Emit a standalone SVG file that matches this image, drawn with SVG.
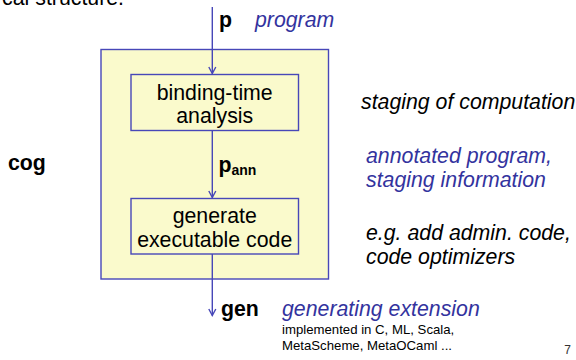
<svg xmlns="http://www.w3.org/2000/svg" width="576" height="360" viewBox="0 0 576 360">
  <style>
    text { font-family: "Liberation Sans", Arial, sans-serif; }
    .lg { font-size: 21.3px; fill: #000; }
    .b { font-weight: bold; }
    .it { font-style: italic; }
    .blue { fill: #33339E; }
    .sm { font-size: 13.2px; fill: #000; }
    .box { fill: #FAFACC; stroke: #4747B8; stroke-width: 1.4; }
    .conn { fill: none; stroke: #4747B8; stroke-width: 1.4; }
    .head { fill: none; stroke: #4747B8; stroke-width: 1.4; }
  </style>

  <!-- heading fragment at top edge -->
  <text class="lg" x="124" y="4.5" text-anchor="end">cal structure.</text>

  <!-- outer generator box -->
  <g id="cog">
    <rect class="box" x="101" y="49.5" width="227.5" height="229.5"/>
    <text class="lg b" x="8" y="170">cog</text>
  </g>

  <!-- stage 1 -->
  <g id="bta">
    <rect class="box" x="131" y="74.5" width="167.5" height="56"/>
    <text class="lg" x="214.7" y="100" text-anchor="middle">binding-time</text>
    <text class="lg" x="214.7" y="123" text-anchor="middle">analysis</text>
  </g>

  <!-- stage 2 -->
  <g id="codegen">
    <rect class="box" x="131" y="198.5" width="167.5" height="55.5"/>
    <text class="lg" x="214.7" y="223" text-anchor="middle">generate</text>
    <text class="lg" x="214.7" y="246.5" text-anchor="middle">executable code</text>
  </g>

  <!-- connectors -->
  <g id="connectors">
    <line class="conn" x1="212.3" y1="7" x2="212.3" y2="73.5"/>
    <path class="head" d="M208.8,67 L212.3,73.5 L215.8,67"/>
    <line class="conn" x1="212.3" y1="130.5" x2="212.3" y2="197.5"/>
    <path class="head" d="M208.8,191 L212.3,197.5 L215.8,191"/>
    <line class="conn" x1="212.3" y1="254" x2="212.3" y2="315.5"/>
    <path class="head" d="M208.8,309 L212.3,315.5 L215.8,309"/>
  </g>

  <!-- data labels -->
  <g id="p">
    <text class="lg b" x="219" y="27">p</text>
    <text class="lg it blue" x="255" y="27">program</text>
  </g>
  <g id="pann">
    <text class="lg b" x="218.5" y="171.5">p<tspan font-size="14" dy="3.5">ann</tspan></text>
  </g>
  <g id="gen">
    <text class="lg b" x="221" y="316">gen</text>
    <text class="lg it blue" x="282" y="316">generating extension</text>
    <text class="sm" x="282" y="334">implemented in C, ML, Scala,</text>
    <text class="sm" x="282" y="350">MetaScheme, MetaOCaml ...</text>
  </g>

  <!-- annotations -->
  <g id="notes">
    <text class="lg it" x="361" y="109">staging of computation</text>
    <text class="lg it blue" x="366" y="163">annotated program,</text>
    <text class="lg it blue" x="366" y="187">staging information</text>
    <text class="lg it" x="366" y="240">e.g. add admin. code,</text>
    <text class="lg it" x="366" y="264">code optimizers</text>
  </g>

  <text x="571" y="354" font-size="12" fill="#333" text-anchor="end">7</text>
</svg>
